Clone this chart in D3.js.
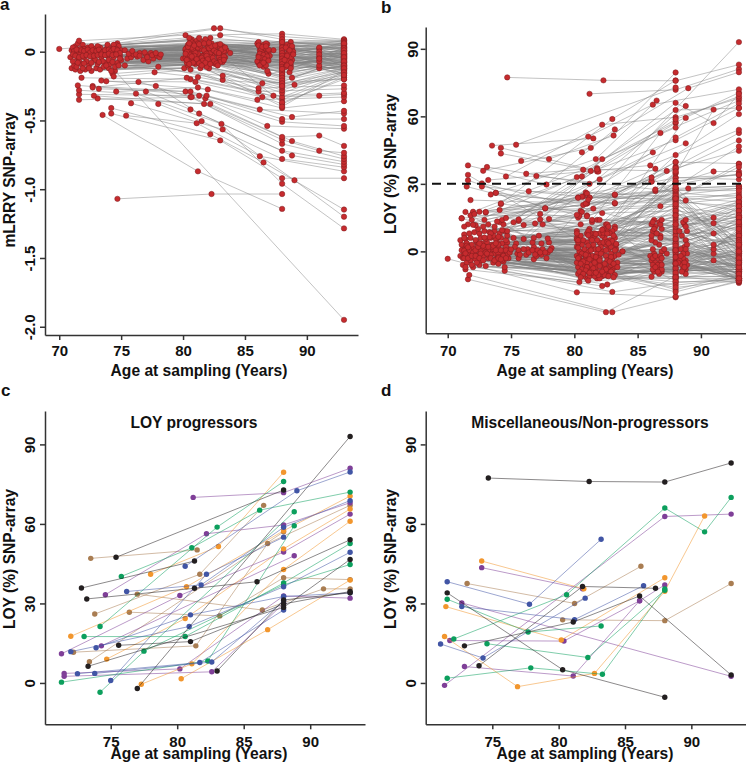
<!DOCTYPE html>
<html lang="en">
<head>
<meta charset="UTF-8">
<title>LOY trajectories</title>
<script src="https://cdn.jsdelivr.net/npm/d3@7/dist/d3.min.js"></script>
<style>
    html, body { margin: 0; padding: 0; background: #fff; }
    svg { display: block; }
    text { font-family: "Liberation Sans", Arial, sans-serif; font-weight: bold; fill: #111; }
    .grey-line { fill: none; stroke: #808080; stroke-width: 0.6; stroke-opacity: 0.8; }
    .red-dot { fill: #c62b2e; stroke: #7c1c1e; stroke-width: 0.5; }
    .axis path, .axis line { stroke: #333; stroke-width: 1.5; }
    .cut-line { stroke: #111; stroke-width: 2; stroke-dasharray: 9 6; }
</style>
</head>
<body>
<svg width="746" height="763"></svg>
<script>
// every row is one man: age, value, age, value ...
var lrrLines = [
[74.7,-1.07,82.3,-1.035,88,-1.035],[74.5,-.14,93,-1.95],[73.5,-.46,81.2,-.87,88,-1.143],
[76.2,-.305,83.1,-.525,88,-.96,93,-1.285],[75.8,-.375,83.2,-.565,89,-.935,93,-1.2],[74.2,-.41,82.2,-.6,86.5,-.805,93,-1.148],
[74.2,-.45,83,-.645,88,-.92,93,-.92],[75.4,-.465,81.1,-.52,86.2,-.76,93,-.87],[78,-.38,81.5,-.505,88,-.78,93,-.84],
[77,-.29,80.6,-.42,88.8,-.755,93,-.82],[77.8,-.25,81.3,-.45,88,-.72,93,-.8],[76.4,-.22,80.6,-.33,88,-.67,93,-.78],
[73.1,-.34,82.2,-.38,88.8,-.65,93,-.76],[72.8,-.32,81.7,-.38,88,-.64,91,-.72,93,-.735],[71.6,-.35,80.7,-.33,88,-.62,91,-.61,93,-.685],
[71.6,-.31,81.3,-.32,86.8,-.54,93,-.56],[71.6,-.28,81.8,-.34,88,-.51,93,-.54],[71.5,-.245,81.9,-.32,88,-.49,93,-.49],
[72.7,-.25,80.2,-.29,86.2,-.42,93,-.45],[73.2,-.27,80.6,-.29,88.8,-.475,93,-.43],[74.6,-.29,81.2,-.26,88,-.41,93,-.36],
[73.4,-.21,82,-.275,86,-.35,93,-.33],[73.8,-.215,81,-.22,86.4,-.33,91,-.32,93,-.31],[71.8,-.19,80.6,-.2,87.3,-.32,93,-.3],
[72.7,-.26,80.3,-.19,86.1,-.29,93,-.27],[77.7,-.15,81.2,-.185,86.1,-.265,93,-.245],[78,-.11,83.2,-.205,86.4,-.23,93,-.2],
[75.3,-.1,83.2,-.175,89,-.24,93,-.19],[74.3,-.16,80.1,-.12,88,-.38,93,-.185],[74.4,-.18,80.6,-.13,88,-.35,93,-.17],
[71,-.12,81.4,-.12,88,-.33,93,-.16],[71.3,-.13,82.1,-.12,88,-.3,93,-.15],[71.7,-.14,81.9,-.11,88,-.28,93,-.14],
[72.1,-.13,80.4,-.1,88,-.26,93,-.13],[72.6,-.14,81,-.09,88,-.24,93,-.12],[73,-.12,82.6,-.09,88,-.22,91,-.12,93,-.11],
[73.3,-.13,83.2,-.075,88,-.2,93,-.1],[74,-.12,80,-.05,88,-.18,93,-.09],[74.5,-.11,81.3,-.07,88.6,-.15,93,-.08],
[71.2,-.1,80.6,-.06,86.9,-.16,93,-.07],[71.8,-.09,81.7,-.05,88.8,-.19,93,-.06],[72.4,-.1,82.3,-.06,86.8,-.14,91,-.1,93,-.05],
[73.1,-.09,80.2,-.045,86.5,-.11,93,-.04],[73.7,-.08,81.1,-.04,88.7,-.1,93,-.03],[74.1,-.09,82.9,-.05,86.1,-.085,93,-.02],
[74.7,-.08,83.4,-.04,86.4,-.09,91,-.07,93,-.01],[75.5,-.05,80.4,-.03,88,-.14,93,0],[75.8,-.04,80.9,-.025,88,-.12,93,.01],
[76,-.02,81.5,-.03,88,-.1,93,.02],[76.3,-.035,82,-.02,88,-.08,91,-.04,93,.03],[76.5,-.01,82.4,-.03,88,-.06,93,.04],
[76.8,-.06,83,-.025,88,-.04,93,.05],[77,-.02,80.7,-.01,88,-.02,93,.06],[77.2,-.07,81.2,-.015,88,0,91,.02,93,.07],
[77.4,-.01,81.8,0,88,.02,93,.08],[77.6,-.05,82.2,-.01,88,.04,93,-.035],[77.9,-.03,82.7,0,88,.06,93,-.015],
[78.1,-.04,83.3,-.01,88,.08,93,.015],[75,-.06,80.2,.01,87.3,.01,93,.035],[71,.01,80.5,.015,86.2,.04,93,.055],
[71.2,.02,81,.01,86.5,.05,93,.065],[71.3,.04,81.4,.02,86.8,.055,93,.075],[71.5,.06,80.3,.03,86,.06,93,.085],
[71.6,.08,80.2,.12,88,.13,93,.09],[71.9,.05,82.5,.17,88,.11,93,.08],[72.3,.03,83,.17,88,.09,93,.07],
[74.7,.06,83,.12,88,.07,93,.06],[74.6,.05,82.2,.1,86.1,.07,93,.05],[70,.02,80.7,.09,88.7,.07,93,.04],
[71.1,.03,81.1,.08,86.7,.06,93,.03],[72,.02,81.6,.07,88.4,.05,93,.02],[72.5,.01,80.8,.06,86.3,.03,93,.01],
[72.9,.02,80.4,.05,88.6,.04,91,.03,93,0],[73.3,.03,81.9,.05,86.6,.02,93,-.005],[73.8,.02,82.3,.06,88.8,.02,93,-.025],
[74.3,.03,82.8,.05,86.2,.01,93,-.045],[74.8,.04,83.2,.04,88.5,.01,91,0,93,-.055],[71.4,-.01,80.6,.04,86.9,0,93,-.065],
[71.7,-.02,81.3,.04,86.4,-.01,93,-.075],[72.2,-.01,82,.03,88.9,0,93,-.085],[72.7,-.02,82.6,.03,86.7,-.02,93,-.095],
[73.2,-.01,83.1,.02,88.3,-.02,93,-.105],[73.6,0,80.2,.02,86.1,-.03,91,-.02,93,-.115],[74.2,-.01,81.5,.02,88.7,-.03,93,-.125],
[74.6,0,82.4,.015,86.5,-.04,93,-.135],[75,.01,83.5,.01,88.4,-.05,93,-.145],[70.9,-.04,80.9,0,86.8,-.05,93,-.155],
[71.5,-.05,81.8,-.005,86.2,-.06,91,-.05],[72,-.04,82.8,-.015,88.8,-.06,93,-.175],[72.8,-.05,83.8,-.01,86.6,-.07],
[73.4,-.04,80.5,-.02,88.2,-.08],[73.9,-.03,81.6,-.035,86,-.07],[74.4,-.04,82.2,-.04,88.6,-.09],
[71.1,-.07,82.9,-.04,86.3,-.09],[71.6,-.06,80.8,-.05],[72.2,-.07,81.9,-.06],[72.9,-.06,83,-.06],[73.5,-.07,82.2,-.075],
[74,-.06,80.3,-.08],[74.9,-.03,81,-.07],[71.4,-.11,81.6,-.09],[71.9,-.12],[72.4,-.12],[73.6,-.11],[74.2,-.14],
[71.7,.02,81.2,.06],[72.6,.04,80.6,.08],[73.1,.04,81.8,.09],[73.9,.05],[74.4,.05],[74.6,.02],
[80.5,.1,88,-.16,93,-.03],[81.3,.1,88,-.37,93,-.2],[80.9,-.08,88,-.4,93,-.14],
// the packed band around zero
[71.2,.005,80.8,.02,88,.03,93,.045],[71.4,.015,81.2,.03,88,.01,93,.025],[71.8,.01,81.7,.01,88,-.01,93,.005],
[72,.005,82.1,.025,88,-.03,93,-.01],[72.3,.015,82.5,.01,88,-.05,93,-.03],[72.5,-.005,83,.035,88,-.07,93,-.04],
[72.7,.01,83.3,.005,88,-.09,93,-.06],[73,.005,80.3,0,88,-.11,93,-.075],[73.2,.015,80.7,.03,88,-.13,93,-.09],
[73.5,-.005,81,-.01,88,-.15,93,-.105],[73.7,.01,81.4,.045,86.3,.02,93,-.12],[74,.015,81.9,-.015,86.6,.03,93,.015],
[74.2,.005,82.3,.04,86.9,.015,93,.03],[74.4,.02,82.7,-.005,87,-.03,93,.05],[74.7,.01,83.1,.015,88.5,-.015,93,.005],
[74.9,-.01,80.4,.035,88.7,-.04,93,-.015],[75.3,.01,80.9,.045,88.3,.03,93,-.045],[75.6,-.015,81.3,.055,88.8,.04,93,.06],
[75.9,.005,81.7,.06,86.1,.045,93,.025],[76.2,-.02,82.1,.065,86.4,.035,93,-.02],[76.5,-.03,82.6,.045,86.7,.04,93,-.05],
[76.9,-.005,83,.055,86.2,-.015,93,-.07],[77.1,-.04,83.4,.03,86.5,-.025,93,-.08],[77.5,-.025,80.5,.06,86.8,-.035,93,-.1],
[77.8,-.01,80.9,-.03,88.6,.01,93,-.035],[78.2,-.02,81.5,-.045,88.9,-.02,93,-.01],[71.1,-.02,81.9,-.03,88.4,-.03,93,-.06],
[71.3,-.03,82.4,-.045,86.3,-.045,93,-.09],[71.6,-.04,82.9,-.01,86.6,-.055,93,-.11],[71.9,-.03,83.3,-.035,86.9,-.065,93,-.13],
[72.2,-.025,80.2,-.015,88.5,-.07,93,-.16],[72.5,-.035,80.7,-.035,88.7,-.08,93,-.05],[72.8,-.03,81.1,-.055,86.4,-.08,93,-.08],
[73.1,-.025,81.6,-.065,86.7,-.1,93,-.065],[73.4,-.02,82,-.055,86.2,-.1,93,-.115],[73.7,-.025,82.5,-.07,88.3,-.11,93,-.125],
[74,-.015,83,-.075,86.1,-.04,93,-.035],[74.3,-.025,80.3,-.06,88.4,-.1,93,-.02],[74.6,-.02,80.8,-.08,88.7,-.12,93,.005],
[74.9,-.05,81.3,-.085,88.2,-.06,93,.01],[71.5,-.08,81.8,-.08,86.5,-.08,93,-.01],[72,-.085,82.2,-.09,88,-.125,93,-.04],
[72.6,-.08,82.7,-.085,88,-.17,93,-.07],[73.2,-.075,83.3,-.06,88,-.19,93,-.1],[73.8,-.1,80.5,-.09,88,-.21,93,-.12],
[74.3,-.075,81.5,-.1,88,-.23,93,-.15],[74.8,-.1,82.8,-.1,88,-.25,93,-.17]
];

// LOY values below the 30 % line; the upper part of panel b comes from the c and d rows
var loyLowLines = [
[70,-3.3,80.2,-18.2,88,-20.4,93,-13],[71.6,-12.4,82.5,-27,88,-11,93,-14],[71.7,-10.5,83,-27,88,-20,93,-13.5],
[74.5,-8.6,83,-18,88,-14,93,-12],[71.4,-8,80.4,-13.6,86.1,-11.3,93,-11],[72,-7,82.2,-15.4,86.9,-9,93,-10],
[72.5,-6,82.6,-14.7,86.5,-8,93,-9],[73,-6.5,82.6,-10.8,88,-12,93,-8],[73.6,-5,81,-12,88,-10,91,-4,93,-7],
[74,-5.5,80.7,-11,88.8,-8,93,-6],[74.4,-4.5,81.5,-10,88,-8,93,-5],[71.2,-6,81.9,-9,86.3,-6,93,-4],
[71.5,-5,80.5,-9,88,-6,93,-3],[71.8,-4,82.3,-8,86.8,-5,91,-1,93,-2],[72.2,-3.5,81.2,-8,88.8,-4,93,-1],
[72.6,-4,82.8,-7,88,-4,93,0],[73.2,-3,80.3,-7,86.1,-4,93,1],[73.8,-3.5,81.7,-7,88,-2,93,2],
[74.2,-2.5,83.2,-7,88.6,-3,93,3],[74.8,-3,80.8,-6,86.6,-3,91,1,93,4],[75.6,-3,81.3,-6,88,0,93,5],
[76.8,-3.5,82.4,-6,86.3,-1,93,6],[77.8,-3,80.2,-5,88,2,93,7],[71,-2,81,-5,88.9,-1,93,8],
[71.3,-1,82,-5,86.9,0,91,3,93,9],[71.7,-1.5,83.4,-5,88,4,93,10],[72.1,-1,80.5,-4,86.2,1,93,11],
[72.5,-1.5,81.5,-4,88,6,93,12],[72.9,-1,82.7,-4,88.7,2,93,13],[73.4,-.5,80.9,-3,86.7,3,93,14],
[73.9,-1.5,81.9,-3,88,8,91,8,93,15],[74.3,-1,83,-3,86.4,4,93,16],[74.7,-1.5,80.2,-2,88,10,93,17],
[75.5,-1,81.4,-2,88.8,5,93,18],[76.2,-1.5,82.5,-2,86.1,5,93,19],[77,-1,83.2,-2,88,12,91,12.5,93,20],
[77.9,-.5,80.7,-1,86.8,7,93,21],[71.2,1,81.8,-1,88,14,93,22],[71.6,.5,82.9,-1,88.5,7,93,-13.5],
[72,1.5,80.4,0,86.5,8,93,-12.5],[72.4,1,81.1,0,88,16,93,-11.5],[72.8,1.5,82.2,0,86.2,9,93,-10.5],
[73.2,.5,83.8,0,88.9,9,93,-9.5],[73.6,1,80.8,1,88,18,93,-8.5],[74,1.5,81.6,1,86.9,10,93,-7.5],
[74.4,.5,82.7,1,88,20,93,-6.5],[74.8,1,83.3,1,86.4,11,93,-5.5],[75.6,.5,80.2,2,88.7,12,93,-4.5],
[76.3,1,81.3,2,86.1,12,93,-3.5],[76.8,2,82.1,2,88,22,93,-2.5],[77.5,1,82.9,2,86.7,13,93,-1.5],
[78.2,1.5,80.6,3,88,24,93,-.5],[71.1,3,81.5,3,86.3,14,93,.5],[71.5,3.5,82.5,3,88.6,13,93,1.5],
[71.9,3,83.3,3,88,26,93,2.5],[72.3,4,80.3,4,87.3,-1,93,3.5],[72.7,3.5,81,4,88,28,93,4.5],
[73.1,4,82,4,88,-3,93,5.5],[73.5,3,83,4,88,-5,93,6.5],[73.9,4,80.7,5,88,-7,93,7.5],
[74.3,3.5,81.8,5,88,-9,93,8.5],[74.7,4,82.8,5,88,-11,93,9.5],[75.4,3.5,80.2,6,88,-13,93,10.5],
[76.7,4,81.3,6,88,1,93,11.5],[77.4,3.5,82.4,6,88,3,93,12.5],[78,4,83.2,6,88,5,93,13.5],
[71,5,80.5,7,88,7,93,14.5],[71.4,5.5,81.6,7,88,9,93,15.5],[71.8,6,82.2,7,88,11,93,22],
[72.2,5,83,8,88,13,93,15],[72.6,6,81,8,88,15,93,12],[73,5.5,82,8,88,17,93,9],
[73.4,6,80.2,9,88,19,93,6],[73.8,5.5,82.6,9,88,21,93,3],[74.2,6,81.2,10,88,23,93,0],
[74.6,5,82.3,10,88,25,93,-3],[75.2,6,83.2,11,88,27,93,-6],[76,5.5,80.5,12,88.8,14,93,18],
[76.8,6,81.4,13,88.8,11,93,20],[77.2,7,82.5,12,88,24,93,25],[71.3,7.5,81.8,14,86.2,13,93,23],
[71.7,8,80.3,15,86.8,12,93,21],[72.1,8.5,81,16,88,26,93,24],[72.5,8,82.6,12,88.9,3,93,-2],
[72.9,9,83.2,10,86.4,-5,93,-6],[73.3,8.5,80.9,-2,88.4,1,93,-4],[73.7,9,81.7,-4,86.7,-7,93,-8],
[74.1,8,82.9,-6,88,-1,93,-10],[74.5,9,80.6,-8,86,-2,93,-12],[71.1,14.7,80.7,20.6,88,28,93,29],
[71.6,12,80.3,24,86.4,26.8,93,28],[71.8,22.8,81,21.3,89,28,93,29],[71.9,14,80.9,26.2,88,24,93,22],
[72,17,80.7,24.4,88.8,22.6,93,26],[72.5,17.6,81.2,24,88,25,93,28],[73,17.3,83.2,25,88,27,93,27],
[73.4,25.3,83.2,21.3,88,22,93,20],[73.8,26,81,21.3,88,23,93,18],[74.2,21,80.5,18,88,20,93,16],
[74.1,18.4,81.5,19,88,21,93,24],[77.7,19.1,82.2,17,88,18,93,15],[77.3,16.6,82,14,88,16,93,13],
[77.3,14.2,82.7,11,86.9,14,93,10],[76.9,12.4,81.3,8,86.3,10,93,7],[78,14.4,83,9,88,12,93,5],
[76,11.7,81.6,8,86.8,6,93,4],[75.6,13.6,82.8,8,88.3,9,93,2],[75.2,12.9,81.1,9,86.5,8,91,15,93,0],
[72.4,10,80.2,8,86.1,7,93,-1],[72.8,11,83.8,0,87.1,1,93,-3],[73.2,12,80.3,-10,88.7,-7,93,-7],
[73.7,11,81.2,-11,86.9,-8,93,-9],[74.1,13,82.2,-11,88.9,-6,93,-11],[74.4,12,81.8,-12,88,-12,93,-12],
[71.2,-3,82,-12,86.2,-3,93,-13],[71.4,-7,81.4,-8],[71.9,-6,82.6,-4],[72.3,-5,81,-7],[72.8,-2,82.4,-9],
[73.3,-2,80.9,-9],[73.7,-1,81.6,-11],[74,-1,83,-5],[74.5,-7,82.8,-9],[71.5,2,81.1,-2],[72,-.5,81.9,1],
[72.6,0,82.3,4],[73,2,81.4,5],[73.5,2,83.1,7],[74,3,80.6,-1],[74.6,2,82,-3],[71.3,6],[72.4,3],[73.6,7],[74.7,7],
// the packed band around zero
[71.1,.5,80.4,-2.5,88,-.5,93,-3.5],[71.4,-.5,80.9,-1.5,88,1.5,93,-5],[71.7,.5,81.3,.5,88,3.5,93,-7],
[72,-.5,81.7,-2.5,88,5.5,93,-9],[72.2,.5,82.1,-1,86.4,-2,93,-11],[72.4,2,82.5,.5,86.8,-2,93,-12],
[72.6,-1,82.9,-2.5,88.6,-1,93,-13],[72.8,2.5,83.2,.5,88.8,1,93,-8],[73,-.5,83.5,-1.5,88.3,-4,93,-5.5],
[73.2,2,80.3,-3,86.2,-6,93,-2],[73.4,-1.5,80.7,-4.5,86.6,-6,93,.5],[73.6,2.5,81.2,-3.5,86.9,-3,93,-6],
[73.8,.5,81.6,-5,88.5,-6,93,-9.5],[74,-2.5,82,-4,88.7,-5,93,-12.5],[74.2,.5,82.4,-5.5,88,-2.5,93,-10],
[74.4,-2,82.8,-4.5,88,.5,93,-7.5],[74.6,.5,83.1,-5.5,88,2.5,93,-3],[74.9,-.5,80.5,-5.5,88,-5.5,93,-1],
[75.3,2,81,-7,88,-7.5,93,1],[75.7,-1.5,81.5,-7.5,88,-9.5,93,-6],[76,1,82,-6.5,88,-11.5,93,-11],
[76.4,-.5,82.5,-8,86.3,-9,93,-8],[76.7,.5,83,-8.5,86.7,-10,93,-4],[77.1,.5,83.4,-7,88.6,-8,93,0],
[77.4,-1.5,80.4,-9,88.8,-10,93,-9],[77.7,-.5,80.9,-8.5,88.4,-2,93,-2.5],[78.1,.5,81.4,-9.5,88.2,-5,93,-12],
[71.3,-3,81.9,-10.5,88,-13.5,93,-13],[71.6,-3,82.4,-10.5,88,-15,93,-12],[71.9,-2,82.9,-9,88,-17,93,-10],
[72.2,-2,83.2,-10.5,86.2,-8,93,-8],[72.5,-3,80.7,-10,86.6,-9,93,-6],[72.8,-4,81.2,-9.5,88,-16,93,-13],
[73.1,-1,81.7,-9.5,88,-18,93,-11],[73.4,-3,82.2,-9,88.5,-9,93,-7],[73.7,-4,82.7,-11,88.7,-7,93,-3],
[74,-3,83.1,-11.5,88,.5,93,-10],[74.3,-4,80.5,-11.5,86.9,-6,93,-12],[74.6,-3,81.1,-13,86.4,-7,93,-5]
];

// panel c, one list per line colour
var progBlack = [
[72.8,35.8,81.3,46],[75.4,47.4,88,72.8],[77,-2.1,93,93],[73.2,31.7,81.3,35.7,86,38.2,93,54],
[75.6,14.2,81,15.6,88,29.8,93,34.5],[73.3,6.3,88,28.5,93,46.6],[83,4.5,88,31.3,93,34]
];
var progBlue = [
[80.6,44,89,72.5,93,79.6],[76.2,34.5,81.8,37,88,58.7,93,68.8],[72,11.8,80.9,21.3,88,36.3,93,49.3],
[73.9,13.3,81,25.7,88,32.6,93,34],[72.5,3.5,81.7,7.7,88,27.5],[73.8,3.6,82.6,7.9,88,31],[75,.9,82.2,41,88,55]
];
var progGreen = [
[75.8,40.2,81.1,51,86.2,65.2,93,72],[74.2,21.3,83,58.8,88,76],[73,17.5,80.6,17.5,88,37.7,93,52.6],
[71.3,.3,82.3,8.3,88.8,59.3],[74.2,-3.5,88.8,64.6],[77.5,12,88,37,93,44.7]
];
var progOrange = [
[78,41,83.1,51.5,88,79.5],[72,17.6,80.7,36.3,88,57.4,93,70.5],[74.7,9,80.6,24.3,88,50.6,93,65.6],
[77.3,-.5,81.1,7.2,88,42.8,93,61],[80.3,1.6,86.8,20.1,93,38.8]
];
var progPurple = [
[81.2,70,88,71.8,93,81],[74.6,33.3,82.2,56.3,88,59.6,93,68],[71.3,11,80.2,33,88,49.4,93,63.7],
[74.3,14,88.8,48],[71.5,3.6,80.2,5.3,88,32.8,93,32],[71.5,2.5,82.6,4.2,88,30]
];
var progBrown = [
[73.5,47,81.5,50.2],[72.2,11.6,81.4,14,86.8,52.6,93,67],[73.8,26,81.7,41,86.5,67],
[76.4,26.7,83.2,25.3,88,39.7,93,39],[77,33.5,86.4,27.5,91,35.5,93,35.5],[73.4,8,88,57]
];

// panel d, same idea
var nonBlack = [
[74.7,77.3,82.3,76,88,75.8,93,83],[71.6,34,80.3,5,88,-5.4],[72.9,14,81.1,23,86.1,32.8,93,3],[74,6.5,81.8,36.4,87.3,35.7]
];
var nonBlue = [
[71.6,38.2,77.8,29.7,83.2,54.2],[71.1,14.7,74.3,9.4,82,32],[72.7,28.8,81.2,23.9,86.4,36.7]
];
var nonGreen = [
[72.1,16.6,80.6,33.3,88,66,91,57,93,70],[74.6,14.8,82.2,9.6,88,35],[71.6,1.8,77.9,5.7,83.3,3.3,88,35.5],[71.6,31.6,77.7,19.2,83.2,21.5]
];
var nonOrange = [
[71.4,17.5,76.9,-1.4,82.7,3.6,88,34.6,91,63],[74.2,46,81.9,35.5],[71.5,28.8,80.2,16.2,88,39.7]
];
var nonPurple = [
[71.4,-.9,88,62.8,93,63.7],[74.2,43.5,81.8,35.5],[72.7,30.2,93,2.5],[71.8,16,80.4,15.8,86.1,31,88,37],[72.9,6.2,81.1,2.6,86.1,31]
];
var nonBrown = [
[73.1,37.5,81.2,30,86.2,44],[80.3,23.8,88,23.5,93,37.5]
];

var lineColors = ['#231f20', '#4155a5', '#0c9f5d', '#f2962d', '#7f3f98', '#a97d52'];
var progressorGroups = [progBrown, progPurple, progOrange, progGreen, progBlue, progBlack];
var nonProgressorGroups = [nonBrown, nonPurple, nonOrange, nonGreen, nonBlue, nonBlack];
var groupColors = lineColors.slice().reverse();

var lrrTicks = [0, -0.5, -1, -1.5, -2];
var lrrTickLabels = ['0', '-0.5', '-1.0', '-1.5', '-2.0'];
var loyTicks = [0, 30, 60, 90];
var ageTicksTop = [70, 75, 80, 85, 90];
var ageTicksBottom = [75, 80, 85, 90];
var ageLabel = 'Age at sampling (Years)';
var loyLabel = 'LOY (%) SNP-array';

var svg = d3.select('svg');

function toPoints(row) {
    var pts = [];
    for (var i = 0; i < row.length; i += 2) pts.push([row[i], row[i + 1]]);
    return pts;
}

// one L shaped panel: axes, rotated y labels, titles
function makePanel(o) {
    var x = d3.scaleLinear().domain(o.xDomain).range([o.left, o.right]);
    var y = d3.scaleLinear().domain(o.yDomain).range([o.bottom, o.top]);

    var xAxis = svg.append('g').attr('class', 'axis')
        .attr('transform', 'translate(0,' + o.bottom + ')')
        .call(d3.axisBottom(x).tickValues(o.xTicks).tickFormat(d3.format('d')).tickSize(5).tickSizeOuter(0));
    xAxis.selectAll('text').attr('dy', null).attr('y', o.xTickY - o.bottom).style('font-size', '15px');

    var yAxis = svg.append('g').attr('class', 'axis')
        .attr('transform', 'translate(' + o.left + ',0)')
        .call(d3.axisLeft(y).tickValues(o.yTicks).tickFormat(function(d, i) { return o.yLabels[i]; }).tickSize(5).tickSizeOuter(0));
    yAxis.selectAll('text')
        .attr('x', null).attr('dy', null)
        .attr('text-anchor', 'middle')
        .attr('transform', 'translate(' + o.yTickGap + ',0) rotate(-90)')
        .style('font-size', '15px');

    svg.append('text')
        .attr('x', o.xLabelX).attr('y', o.xLabelY)
        .attr('text-anchor', 'middle').style('font-size', '15.6px')
        .text(ageLabel);

    svg.append('text')
        .attr('transform', 'translate(' + o.yLabelX + ',' + o.yLabelY + ') rotate(-90)')
        .attr('text-anchor', 'middle').style('font-size', '15.6px')
        .text(o.yName);

    svg.append('text')
        .attr('x', o.letterX).attr('y', o.letterY)
        .style('font-size', '17px')
        .text(o.letter);

    if (o.title) {
        svg.append('text')
            .attr('x', o.titleX).attr('y', 428)
            .attr('text-anchor', 'middle').style('font-size', '15.6px')
            .text(o.title);
    }

    var line = d3.line().x(function(d) { return x(d[0]); }).y(function(d) { return y(d[1]); });
    return { x: x, y: y, line: line, g: svg.append('g') };
}

function drawGrey(p, rows, r) {
    var data = rows.map(toPoints);
    p.g.selectAll('path.grey-line').data(data).enter().append('path')
        .attr('class', 'grey-line')
        .attr('d', p.line);
    p.g.selectAll('circle.red-dot').data(d3.merge(data)).enter().append('circle')
        .attr('class', 'red-dot')
        .attr('r', r)
        .attr('cx', function(d) { return p.x(d[0]); })
        .attr('cy', function(d) { return p.y(d[1]); });
}

function drawColoured(p, groups) {
    groups.forEach(function(rows, i) {
        var data = rows.map(toPoints);
        var g = p.g.append('g');
        g.selectAll('path').data(data).enter().append('path')
            .attr('d', p.line)
            .attr('fill', 'none')
            .attr('stroke', groupColors[i])
            .attr('stroke-width', 0.7)
            .attr('stroke-opacity', 0.75);
        g.selectAll('circle').data(d3.merge(data)).enter().append('circle')
            .attr('r', 2.7)
            .attr('fill', groupColors[i])
            .attr('cx', function(d) { return p.x(d[0]); })
            .attr('cy', function(d) { return p.y(d[1]); });
    });
}

var panelA = makePanel({
    left: 45, right: 358, top: 14, bottom: 335,
    xDomain: [68.85, 94.13], yDomain: [-2.06, 0.274],
    xTicks: ageTicksTop, yTicks: lrrTicks, yLabels: lrrTickLabels, yTickGap: -10,
    xTickY: 356, xLabelX: 199, xLabelY: 376,
    yName: 'mLRRY SNP-array', yLabelX: 15, yLabelY: 180,
    letter: 'a', letterX: 0, letterY: 10
});
drawGrey(panelA, lrrLines, 2.7);

var panelB = makePanel({
    left: 425.7, right: 746, top: 27, bottom: 333.3,
    xDomain: [68.26, 93.56], yDomain: [-36.4, 99.7],
    xTicks: ageTicksTop, yTicks: loyTicks, yLabels: loyTicks, yTickGap: -8,
    xTickY: 356, xLabelX: 585, xLabelY: 376,
    yName: loyLabel, yLabelX: 396, yLabelY: 164,
    letter: 'b', letterX: 381, letterY: 13
});
var upperRows = d3.merge(progressorGroups.concat(nonProgressorGroups));
drawGrey(panelB, loyLowLines.concat(upperRows), 2.7);
panelB.g.append('line')
    .attr('class', 'cut-line')
    .attr('x1', 432).attr('x2', 746)
    .attr('y1', panelB.y(30)).attr('y2', panelB.y(30));

var panelC = makePanel({
    left: 45, right: 365, top: 411, bottom: 724.3,
    xDomain: [70.06, 94.12], yDomain: [-15.6, 102.6],
    xTicks: ageTicksBottom, yTicks: loyTicks, yLabels: loyTicks, yTickGap: -10,
    xTickY: 747, xLabelX: 199, xLabelY: 759,
    yName: loyLabel, yLabelX: 15, yLabelY: 559,
    letter: 'c', letterX: 1, letterY: 396,
    title: 'LOY progressors', titleX: 194
});
drawColoured(panelC, progressorGroups);

var panelD = makePanel({
    left: 425.7, right: 746, top: 411, bottom: 724.3,
    xDomain: [69.98, 94.12], yDomain: [-15.6, 102.6],
    xTicks: ageTicksBottom, yTicks: loyTicks, yLabels: loyTicks, yTickGap: -9.5,
    xTickY: 747, xLabelX: 585, xLabelY: 759,
    yName: loyLabel, yLabelX: 396, yLabelY: 559,
    letter: 'd', letterX: 381, letterY: 396,
    title: 'Miscellaneous/Non-progressors', titleX: 590
});
drawColoured(panelD, nonProgressorGroups);
</script>
</body>
</html>
